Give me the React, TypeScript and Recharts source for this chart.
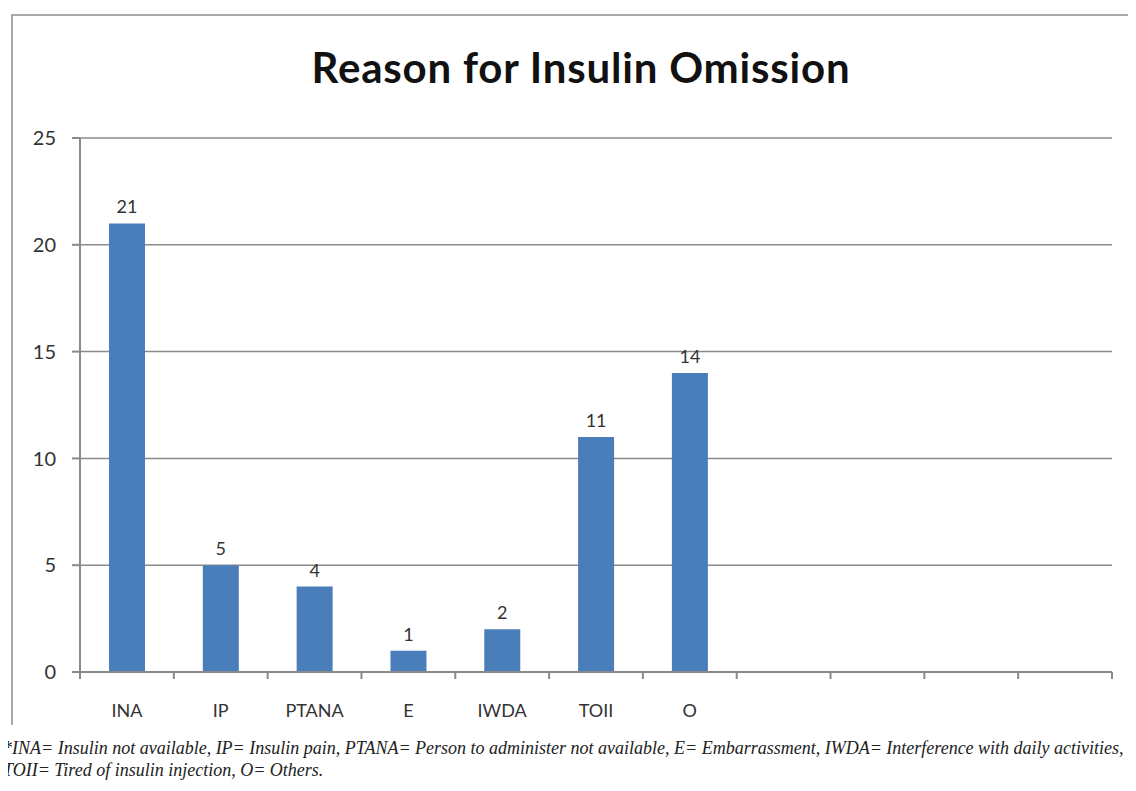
import React from "react";
import { BarChart, Bar, XAxis, YAxis, CartesianGrid, LabelList } from "recharts";

// categories (the last four slots are empty in the original chart)
const categories = ["INA", "IP", "PTANA", "E", "IWDA", "TOII", "O", "", " ", "  ", "   "];
const counts: (number | null)[] = [21, 5, 4, 1, 2, 11, 14, null, null, null, null];
const yTicks = [0, 5, 10, 15, 20, 25];

const TITLE = "Reason for Insulin Omission";
const NOTE_1 =
  "*INA= Insulin not available, IP= Insulin pain, PTANA= Person to administer not available, E= Embarrassment, IWDA= Interference with daily activities,";
const NOTE_2 = "TOII= Tired of insulin injection, O= Others.";

const data = categories.map((name, i) => ({ name, value: counts[i] }));

const BLUE = "#4a7ebb";
const AXIS = "#8a8a8a";
const FONT = "Lato, 'Open Sans', sans-serif";

// Excel-style category tick: tick mark sits between categories, label in the middle
function SlotTick(props: any) {
  const { x, y, width, visibleTicksCount, index, payload } = props;
  const half = width / visibleTicksCount / 2;
  const last = index === visibleTicksCount - 1;
  return (
    <g>
      <line x1={x - half} x2={x - half} y1={y} y2={y + 7} stroke={AXIS} strokeWidth={2} />
      {last && <line x1={x + half} x2={x + half} y1={y} y2={y + 7} stroke={AXIS} strokeWidth={2} />}
      <text x={x} y={y + 45} textAnchor="middle" fontFamily={FONT} fontSize={18} fill="#333">
        {payload.value}
      </text>
    </g>
  );
}

export default function App() {
  return (
    <div style={{ position: "relative", width: 1136, height: 791, margin: -8, background: "#fff", overflow: "hidden" }}>
      {/* chart frame (top + left edges only, the rest is cropped) */}
      <div
        style={{
          position: "absolute",
          left: 11,
          top: 14,
          width: 1130,
          height: 709,
          borderTop: "2px solid #a9a9a9",
          borderLeft: "2px solid #a9a9a9",
        }}
      />
      <div
        style={{
          position: "absolute",
          left: 0,
          width: 1162,
          top: 42,
          textAlign: "center",
          fontFamily: FONT,
          fontWeight: 700,
          fontSize: 42,
          letterSpacing: 0.8,
          color: "#111",
        }}
      >
        {TITLE}
      </div>
      <div style={{ position: "absolute", left: 0, top: 0 }}>
        <BarChart width={1136} height={730} data={data} margin={{ top: 138, right: 24, left: 0, bottom: 10 }}>
          <CartesianGrid vertical={false} stroke={AXIS} strokeWidth={1.5} />
          <XAxis
            dataKey="name"
            type="category"
            height={48}
            stroke={AXIS}
            strokeWidth={2}
            tickLine={false}
            tickSize={0}
            tickMargin={0}
            interval={0}
            tick={<SlotTick />}
          />
          <YAxis
            width={80}
            domain={[0, 25]}
            ticks={yTicks}
            tickSize={8}
            tickMargin={16}
            stroke={AXIS}
            strokeWidth={2}
            tick={{ fontFamily: FONT, fontSize: 20, fill: "#333" }}
          />
          <Bar dataKey="value" fill={BLUE} barSize={36} isAnimationActive={false}>
            <LabelList dataKey="value" position="top" offset={10} style={{ fontFamily: FONT, fontSize: 18, fill: "#333" }} />
          </Bar>
        </BarChart>
      </div>
      <div
        style={{
          position: "absolute",
          left: 3,
          top: 737,
          fontFamily: "'Liberation Serif', serif",
          fontStyle: "italic",
          fontSize: 18,
          lineHeight: "22px",
          color: "#222",
          whiteSpace: "nowrap",
        }}
      >
        <div>{NOTE_1}</div>
        <div>{NOTE_2}</div>
      </div>
    </div>
  );
}
